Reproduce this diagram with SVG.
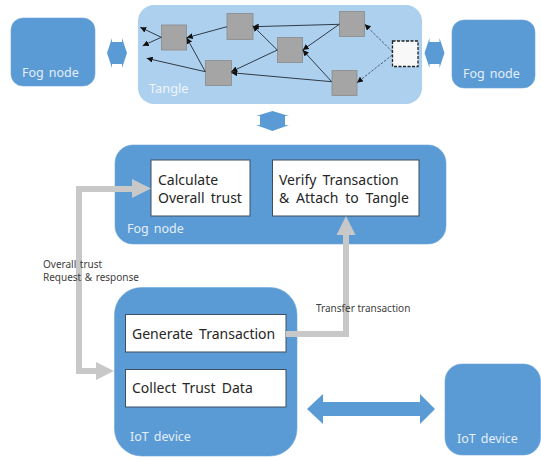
<svg xmlns="http://www.w3.org/2000/svg" width="541" height="460" viewBox="0 0 541 460">
<style>
text{font-family:"Noto Sans","Liberation Sans",sans-serif}
.blue{fill:#5b9bd5;stroke:#6ea6da;stroke-width:.6}
.arr{fill:#5b9bd5}
.lbl{fill:#e4eef8;font-size:12.5px;word-spacing:1.800px}
.box{fill:#fff;stroke:#3d4f60;stroke-width:1}
.t{fill:#262626;font-size:14px;word-spacing:2.500px}
.s{fill:#404040;font-size:10px;word-spacing:1px}
.sq{fill:#a5a5a5;stroke:#8b8b8b;stroke-width:.8}
.e{stroke:#2f3b47;stroke-width:1;fill:none;marker-end:url(#h)}
.d{stroke:#2f3b47;stroke-width:.8;stroke-dasharray:2.5 1.5;fill:none;marker-end:url(#h)}
.g{fill:none;stroke:#c8c8c8;stroke-width:6}
.gh{fill:#c8c8c8}
</style>
<defs>
<marker id="h" markerUnits="userSpaceOnUse" markerWidth="7" markerHeight="6" refX="6" refY="3" orient="auto"><path d="M0,0L6,3L0,6Z" fill="#111"/></marker>
</defs>
<g id="fog-left"><rect class="blue" x="11" y="18" width="84" height="68" rx="12"/><text class="lbl" x="22" y="77">Fog node</text></g>
<g id="tangle">
<rect x="138" y="5" width="284" height="99" rx="16" fill="#aed0ef"/>
<text x="149" y="93" font-size="12.8" fill="#eef5fb">Tangle</text>
<rect id="tx-a" class="sq" x="161.500" y="25" width="25" height="25"/>
<rect id="tx-b" class="sq" x="227" y="13.500" width="26" height="26"/>
<rect id="tx-c" class="sq" x="277.500" y="37.500" width="25" height="25"/>
<rect id="tx-d" class="sq" x="339.500" y="11.500" width="25" height="25"/>
<rect id="tx-e" class="sq" x="332" y="70.500" width="25" height="25"/>
<rect id="tx-f" class="sq" x="205.500" y="60.500" width="26" height="25"/>
<rect id="tx-new" x="392.500" y="41" width="25.500" height="25.500" fill="#f8f8f8" stroke="#222" stroke-width="1.300" stroke-dasharray="3 1.500"/>
</g>
<g id="fog-right"><rect class="blue" x="452" y="20" width="83" height="68" rx="12"/><text class="lbl" x="463" y="78">Fog node</text></g>
<g id="fog-mid">
<rect class="blue" x="115" y="145" width="331" height="99" rx="18"/>
<text class="lbl" x="127" y="233">Fog node</text>
</g>
<g id="calc"><rect class="box" x="151" y="160" width="99" height="56"/><text class="t" x="158" y="185">Calculate</text><text class="t" x="158" y="203">Overall trust</text></g>
<g id="verify"><rect class="box" x="272.500" y="160" width="146.500" height="56"/><text class="t" x="279" y="185">Verify Transaction</text><text class="t" x="279" y="203" style="word-spacing:3.200px">&amp; Attach to Tangle</text></g>
<g id="iot-main">
<rect class="blue" x="114.500" y="287.500" width="182.500" height="168.500" rx="27"/>
<text class="lbl" x="130" y="441">IoT device</text>
</g>
<g id="generate"><rect class="box" x="125.500" y="314.500" width="160.500" height="37.500"/><text class="t" x="132" y="339">Generate Transaction</text></g>
<g id="collect"><rect class="box" x="125.500" y="369.500" width="160.500" height="37.500"/><text class="t" x="132" y="393">Collect Trust Data</text></g>
<g id="iot-right"><rect class="blue" x="445" y="364" width="95.500" height="91" rx="17"/><text class="lbl" x="457" y="443">IoT device</text></g>
<g id="connectors">
<path class="e" d="M161.300,37.300L140.300,27.300"/>
<path class="e" d="M161.300,37.300L142.700,45.700"/>
<path class="e" d="M205.300,71.700L146.700,58.300"/>
<path class="e" d="M205.300,71.700L186.700,37.700"/>
<path class="e" d="M227,26.700L186.700,37.700"/>
<path class="e" d="M277.300,50L252.700,25.700"/>
<path class="e" d="M339.300,24.300L252.700,26.700"/>
<path class="e" d="M339.300,24.300L302.700,50"/>
<path class="e" d="M277.300,50L231.300,71.700"/>
<path class="e" d="M331.700,81.700L302.700,50"/>
<path class="e" d="M331.700,81.700L231.300,72.700"/>
<path class="d" d="M392.300,51.700L364.700,24.300"/>
<path class="d" d="M392.300,55L357,82.700"/>
<path class="g" d="M133,189H79V371H97"/>
<path class="gh" d="M132,179L151,188.500L132,198ZM96,362L114,371L96,380Z"/>
<path class="g" d="M286,334H346V234"/>
<path class="gh" d="M336.500,235L346,216L355.500,235Z"/>
<path class="arr" d="M107,53L112,38V42H122V38L127,53L122,68V64H112V68Z"/>
<path class="arr" d="M424.500,53L429.500,38V42H439.500V38L444.500,53L439.500,68V64H429.500V68Z"/>
<path class="arr" d="M272.500,111L289,116H285V125H289L272.500,131L256,125H260V116H256Z"/>
<path class="arr" d="M307,409L323,394V402H420V394L435,409L420,424V416H323V424Z"/>
</g>
<text class="s" x="43" y="268">Overall trust</text>
<text class="s" x="43" y="281">Request &amp; response</text>
<text class="s" x="316" y="312" style="word-spacing:0">Transfer transaction</text>
</svg>
